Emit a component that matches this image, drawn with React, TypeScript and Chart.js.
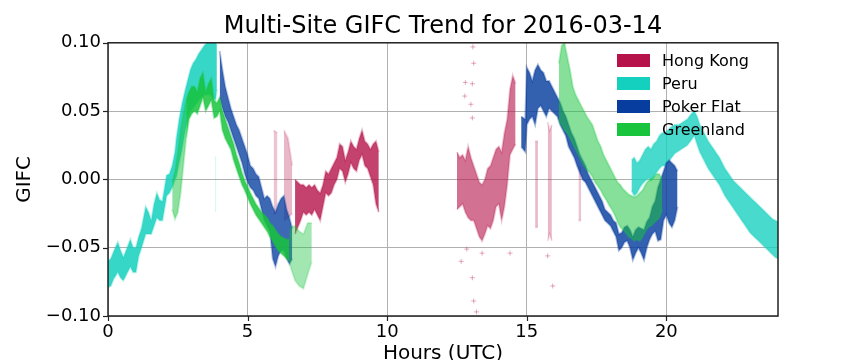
import React, { useEffect, useRef } from 'react';
import { Chart, registerables } from 'chart.js';

Chart.register(...registerables);

// [hour, low, high] envelopes
const peruEarly: [number, number, number][] = [
  [0.0, -0.079, -0.060], [0.1, -0.078, -0.058], [0.2, -0.073, -0.053], [0.35, -0.068, -0.046],
  [0.45, -0.072, -0.052], [0.55, -0.074, -0.057], [0.65, -0.070, -0.052], [0.8, -0.064, -0.044],
  [0.9, -0.068, -0.050], [1.0, -0.068, -0.050], [1.1, -0.056, -0.042], [1.2, -0.050, -0.036],
  [1.35, -0.040, -0.020], [1.45, -0.040, -0.024], [1.55, -0.040, -0.030], [1.65, -0.034, -0.018],
  [1.75, -0.028, -0.010], [1.85, -0.030, -0.015], [1.95, -0.030, -0.016], [2.1, -0.012, 0.003],
  [2.2, -0.010, 0.004], [2.3, -0.006, 0.010], [2.4, 0.000, 0.020], [2.45, 0.002, 0.030],
  [2.55, 0.012, 0.044], [2.65, 0.022, 0.055], [2.75, 0.034, 0.064], [2.85, 0.044, 0.072],
  [2.95, 0.050, 0.080], [3.05, 0.052, 0.085], [3.15, 0.055, 0.088], [3.25, 0.058, 0.092],
  [3.35, 0.060, 0.095], [3.45, 0.062, 0.098], [3.55, 0.062, 0.100], [3.65, 0.062, 0.102],
  [3.75, 0.060, 0.102], [3.85, 0.058, 0.100], [3.9, 0.066, 0.098],
];
const peruStreak: [number, number, number][] = [
  [3.83, -0.023, 0.016], [3.88, -0.023, 0.016],
];
const peruLate: [number, number, number][] = [
  [18.75, -0.008, 0.014], [18.85, -0.012, 0.016], [18.95, -0.010, 0.012], [19.05, -0.006, 0.014],
  [19.15, -0.003, 0.018], [19.25, -0.001, 0.022], [19.35, 0.001, 0.024], [19.45, -0.001, 0.022],
  [19.55, 0.002, 0.026], [19.65, 0.005, 0.028], [19.75, 0.008, 0.032], [19.85, 0.010, 0.034],
  [19.95, 0.010, 0.034], [20.05, 0.012, 0.036], [20.15, 0.015, 0.038], [20.3, 0.019, 0.040],
  [20.45, 0.021, 0.040], [20.6, 0.023, 0.042], [20.75, 0.025, 0.044], [20.9, 0.029, 0.048],
  [21.0, 0.032, 0.050], [21.1, 0.026, 0.046], [21.2, 0.020, 0.040], [21.3, 0.016, 0.036],
  [21.4, 0.012, 0.032], [21.5, 0.008, 0.028], [21.6, 0.005, 0.025], [21.7, 0.002, 0.022],
  [21.8, -0.001, 0.019], [21.9, -0.004, 0.016], [22.0, -0.008, 0.012], [22.1, -0.012, 0.008],
  [22.2, -0.015, 0.005], [22.3, -0.018, 0.002], [22.4, -0.021, -0.001], [22.5, -0.024, -0.003],
  [22.6, -0.027, -0.005], [22.7, -0.030, -0.007], [22.8, -0.033, -0.009], [22.9, -0.036, -0.011],
  [23.0, -0.039, -0.013], [23.1, -0.041, -0.015], [23.2, -0.043, -0.017], [23.3, -0.045, -0.019],
  [23.4, -0.047, -0.021], [23.5, -0.049, -0.023], [23.6, -0.051, -0.025], [23.7, -0.053, -0.027],
  [23.8, -0.055, -0.029], [23.9, -0.057, -0.030], [24.0, -0.058, -0.031],
];

const greenlandRise: [number, number, number][] = [
  [2.3, -0.022, -0.002], [2.4, -0.029, 0.006], [2.5, -0.024, 0.020], [2.6, -0.010, 0.036],
  [2.7, 0.010, 0.048], [2.8, 0.030, 0.058],
];
const greenlandEarly: [number, number, number][] = [
  [2.8, 0.030, 0.058], [2.9, 0.044, 0.064], [3.0, 0.048, 0.068], [3.1, 0.050, 0.068],
  [3.2, 0.048, 0.064], [3.3, 0.054, 0.074], [3.4, 0.060, 0.078], [3.5, 0.050, 0.064],
  [3.6, 0.054, 0.070], [3.7, 0.058, 0.074], [3.8, 0.045, 0.058], [3.9, 0.046, 0.056],
  [4.0, 0.050, 0.060], [4.1, 0.036, 0.050], [4.2, 0.030, 0.044], [4.3, 0.026, 0.038],
  [4.4, 0.022, 0.032], [4.5, 0.014, 0.026], [4.6, 0.008, 0.018], [4.7, 0.002, 0.012],
  [4.8, -0.004, 0.005], [4.9, -0.008, -0.001], [5.0, -0.013, -0.005], [5.1, -0.018, -0.010],
  [5.2, -0.022, -0.014], [5.3, -0.026, -0.018], [5.4, -0.029, -0.021], [5.5, -0.032, -0.024],
  [5.6, -0.035, -0.026], [5.7, -0.038, -0.028], [5.8, -0.042, -0.032], [5.9, -0.045, -0.034],
  [6.0, -0.049, -0.037], [6.1, -0.052, -0.040], [6.2, -0.054, -0.042], [6.3, -0.056, -0.043],
  [6.4, -0.058, -0.044], [6.5, -0.060, -0.044],
];
const greenlandTail: [number, number, number][] = [
  [6.5, -0.060, -0.044], [6.55, -0.065, -0.035], [6.7, -0.074, -0.034], [6.85, -0.078, -0.038],
  [7.0, -0.080, -0.040], [7.15, -0.070, -0.032], [7.3, -0.060, -0.032],
];
const greenlandLate: [number, number, number][] = [
  [16.15, 0.042, 0.085], [16.25, 0.040, 0.098], [16.35, 0.036, 0.100], [16.45, 0.034, 0.090],
  [16.55, 0.030, 0.080], [16.65, 0.026, 0.068], [16.75, 0.022, 0.062], [16.85, 0.018, 0.058],
  [16.95, 0.014, 0.054], [17.05, 0.010, 0.050], [17.15, 0.007, 0.046], [17.25, 0.005, 0.043],
  [17.35, 0.002, 0.040], [17.45, -0.002, 0.034], [17.55, -0.005, 0.028], [17.65, -0.008, 0.024],
  [17.75, -0.012, 0.018], [17.85, -0.015, 0.014], [17.95, -0.019, 0.010], [18.05, -0.022, 0.006],
  [18.15, -0.026, 0.002], [18.25, -0.031, -0.002], [18.35, -0.035, -0.004], [18.45, -0.037, -0.007],
  [18.55, -0.039, -0.009], [18.65, -0.042, -0.011], [18.75, -0.043, -0.012], [18.85, -0.045, -0.013],
  [18.95, -0.044, -0.012], [19.05, -0.045, -0.010], [19.15, -0.042, -0.008], [19.25, -0.038, -0.004],
  [19.35, -0.035, -0.001], [19.45, -0.034, 0.000], [19.55, -0.032, 0.002], [19.65, -0.030, 0.004],
  [19.75, -0.028, 0.004], [19.85, -0.022, 0.000],
];

const pokerEarly: [number, number, number][] = [
  [4.0, 0.060, 0.094], [4.1, 0.052, 0.080], [4.2, 0.046, 0.068], [4.3, 0.042, 0.060],
  [4.4, 0.036, 0.052], [4.5, 0.030, 0.046], [4.6, 0.024, 0.040], [4.7, 0.018, 0.036],
  [4.8, 0.012, 0.030], [4.9, 0.004, 0.024], [5.0, -0.002, 0.018], [5.1, -0.006, 0.010],
  [5.2, -0.008, 0.008], [5.3, -0.012, 0.004], [5.4, -0.014, 0.002], [5.5, -0.022, -0.006],
  [5.6, -0.030, -0.014], [5.7, -0.034, -0.012], [5.8, -0.038, -0.014], [5.9, -0.058, -0.020],
  [6.0, -0.064, -0.024], [6.1, -0.056, -0.018], [6.2, -0.052, -0.014], [6.3, -0.052, -0.012],
  [6.4, -0.058, -0.022], [6.5, -0.062, -0.028], [6.6, -0.058, -0.036],
];
const pokerLate: [number, number, number][] = [
  [14.8, 0.024, 0.046], [14.95, 0.020, 0.044], [15.0, 0.040, 0.082], [15.1, 0.044, 0.078],
  [15.2, 0.046, 0.072], [15.3, 0.040, 0.080], [15.4, 0.052, 0.084], [15.5, 0.054, 0.080],
  [15.6, 0.050, 0.078], [15.7, 0.046, 0.072], [15.8, 0.052, 0.072], [15.9, 0.050, 0.068],
  [16.0, 0.048, 0.064], [16.1, 0.046, 0.060], [16.2, 0.040, 0.056], [16.3, 0.036, 0.050],
  [16.4, 0.032, 0.046], [16.5, 0.024, 0.040], [16.6, 0.020, 0.034], [16.7, 0.016, 0.030],
  [16.8, 0.010, 0.024], [16.9, 0.005, 0.018], [17.0, 0.000, 0.014], [17.1, -0.002, 0.010],
  [17.2, -0.006, 0.004], [17.3, -0.010, 0.000], [17.4, -0.014, -0.004], [17.5, -0.018, -0.008],
  [17.6, -0.022, -0.012], [17.7, -0.026, -0.016], [17.8, -0.030, -0.022], [17.9, -0.032, -0.024],
  [18.0, -0.034, -0.026], [18.1, -0.038, -0.030], [18.2, -0.042, -0.032], [18.3, -0.052, -0.040],
  [18.4, -0.050, -0.039], [18.5, -0.046, -0.035], [18.6, -0.045, -0.034], [18.7, -0.050, -0.037],
  [18.8, -0.059, -0.042], [18.9, -0.054, -0.037], [19.0, -0.050, -0.035], [19.1, -0.054, -0.036],
  [19.2, -0.059, -0.037], [19.3, -0.050, -0.031], [19.4, -0.044, -0.028], [19.5, -0.040, -0.020],
  [19.6, -0.038, -0.016], [19.7, -0.045, -0.006], [19.8, -0.044, 0.000], [19.9, -0.030, 0.006],
  [20.0, -0.026, 0.012], [20.1, -0.032, 0.014], [20.2, -0.035, 0.012], [20.3, -0.030, 0.010],
  [20.4, -0.020, 0.006],
];

const hongKongEarly: [number, number, number][] = [
  [6.7, -0.040, 0.000], [6.8, -0.035, -0.002], [6.9, -0.030, -0.004], [7.0, -0.024, -0.004],
  [7.1, -0.026, -0.006], [7.2, -0.024, -0.004], [7.3, -0.026, -0.006], [7.4, -0.022, -0.004],
  [7.5, -0.026, -0.008], [7.6, -0.030, -0.010], [7.7, -0.020, -0.004], [7.8, -0.010, 0.006],
  [7.9, -0.012, 0.004], [8.0, -0.010, 0.008], [8.1, -0.004, 0.012], [8.2, 0.000, 0.016],
  [8.3, 0.008, 0.026], [8.4, 0.006, 0.024], [8.5, -0.002, 0.014], [8.6, 0.004, 0.020],
  [8.7, 0.012, 0.028], [8.8, 0.008, 0.024], [8.9, 0.006, 0.022], [9.0, 0.014, 0.030],
  [9.1, 0.018, 0.036], [9.2, 0.010, 0.028], [9.3, 0.008, 0.026], [9.4, 0.002, 0.022],
  [9.5, -0.004, 0.026], [9.6, -0.018, 0.028], [9.7, -0.024, 0.020],
];
const hongKongStreakA: [number, number, number][] = [[5.93, -0.026, 0.036], [6.07, -0.022, 0.034]];
const hongKongStreakB: [number, number, number][] = [[6.3, -0.030, 0.036], [6.45, -0.028, 0.030], [6.6, -0.025, 0.010]];
const hongKongLate: [number, number, number][] = [
  [12.5, -0.022, 0.020], [12.6, -0.020, 0.016], [12.7, -0.018, 0.018], [12.8, -0.024, 0.014],
  [12.9, -0.028, 0.024], [13.0, -0.030, 0.016], [13.1, -0.030, 0.010], [13.2, -0.036, 0.004],
  [13.3, -0.042, -0.002], [13.4, -0.045, -0.004], [13.5, -0.040, 0.000], [13.6, -0.034, 0.008],
  [13.7, -0.036, 0.010], [13.8, -0.030, 0.016], [13.9, -0.020, 0.022], [14.0, -0.018, 0.024],
  [14.1, -0.030, 0.020], [14.2, -0.020, 0.034], [14.3, -0.004, 0.044], [14.4, 0.018, 0.066],
  [14.5, 0.022, 0.076], [14.6, 0.026, 0.070],
];
const hongKongStreakC: [number, number, number][] = [[15.3, -0.035, 0.028], [15.4, -0.035, 0.028]];
const hongKongStreakD: [number, number, number][] = [[15.75, -0.045, 0.042], [15.82, -0.040, 0.036], [15.9, -0.045, 0.040]];
const hongKongStreakE: [number, number, number][] = [[16.85, -0.030, 0.010], [16.95, -0.030, 0.008]];
const hongKongOutliers: [number, number][] = [
  [13.07, 0.097], [13.1, 0.085], [13.05, 0.070], [12.8, 0.071], [12.78, 0.061], [13.0, 0.055],
  [13.05, 0.045], [13.05, -0.072], [13.1, -0.089], [13.2, -0.097], [12.85, -0.051], [13.4, -0.054],
  [14.4, -0.054], [15.75, -0.056], [15.93, -0.078], [12.65, -0.060],
];

const Y_TICKS = [-0.1, -0.05, 0, 0.05, 0.1];
const X_TICKS = [0, 5, 10, 15, 20];

const SERIES = ['Hong Kong', 'Peru', 'Poker Flat', 'Greenland'];
const COLORS = ['#b5134a', '#14d0be', '#073d9f', '#17c43c'];

function rgba(hex: string, a: number) {
  const n = parseInt(hex.slice(1), 16);
  return `rgba(${(n >> 16) & 255},${(n >> 8) & 255},${n & 255},${a})`;
}

function band(b: [number, number, number][], color: string, fillA: number, edgeA: number) {
  const common = {
    borderColor: rgba(color, edgeA),
    borderWidth: 2,
    pointRadius: 0,
    tension: 0,
  };
  return [
    { ...common, data: b.map(([x, , hi]) => ({ x, y: hi })), fill: false },
    { ...common, data: b.map(([x, lo]) => ({ x, y: lo })), fill: '-1', backgroundColor: rgba(color, fillA) },
  ];
}

const framePlugin = {
  id: 'frame',
  afterDraw(chart: any) {
    const { ctx, chartArea: a, scales } = chart;
    ctx.save();
    ctx.strokeStyle = '#222';
    ctx.lineWidth = 1.5;
    ctx.strokeRect(a.left, a.top, a.right - a.left, a.bottom - a.top);
    ctx.lineWidth = 1.2;
    for (const v of Y_TICKS) {
      const y = Math.round(scales.y.getPixelForValue(v)) + 0.5;
      ctx.beginPath(); ctx.moveTo(a.left - 5, y); ctx.lineTo(a.left, y); ctx.stroke();
    }
    for (const v of X_TICKS) {
      const x = Math.round(scales.x.getPixelForValue(v)) + 0.5;
      ctx.beginPath(); ctx.moveTo(x, a.bottom); ctx.lineTo(x, a.bottom + 5); ctx.stroke();
    }
    ctx.restore();
  },
};

export default function App() {
  const ref = useRef<HTMLCanvasElement>(null);
  useEffect(() => {
    if (!ref.current) return;
    const [HK, PE, PF, GL] = COLORS;
    const datasets: any[] = [
      ...band(greenlandEarly, GL, 0.85, 0.35),
      ...band(greenlandRise, GL, 0.5, 0.25),
      ...band(greenlandTail, GL, 0.4, 0.2),
      ...band(greenlandLate, GL, 0.52, 0.28),
      ...band(pokerEarly, PF, 0.78, 0.3),
      ...band(pokerLate, PF, 0.82, 0.35),
      ...band(peruEarly, PE, 0.85, 0.3),
      ...band(peruStreak, PE, 0.15, 0.1),
      ...band(peruLate, PE, 0.78, 0.3),
      ...band(hongKongEarly, HK, 0.8, 0.3),
      ...band(hongKongStreakA, HK, 0.25, 0.15),
      ...band(hongKongStreakB, HK, 0.3, 0.15),
      ...band(hongKongLate, HK, 0.6, 0.25),
      ...band(hongKongStreakC, HK, 0.3, 0.15),
      ...band(hongKongStreakD, HK, 0.3, 0.15),
      ...band(hongKongStreakE, HK, 0.25, 0.15),
      {
        data: hongKongOutliers.map(([x, y]) => ({ x, y })),
        showLine: false,
        pointStyle: 'cross',
        pointRadius: 2.5,
        pointBorderWidth: 1,
        pointBorderColor: rgba(HK, 0.35),
        borderColor: rgba(HK, 0.35),
        fill: false,
      },
    ];
    const chart = new Chart(ref.current, {
      type: 'line',
      data: { datasets },
      options: {
        animation: false,
        responsive: false,
        events: [],
        layout: { padding: { left: 0, right: 86, top: 0, bottom: 0 } },
        plugins: {
          legend: { display: false },
          tooltip: { enabled: false },
          title: {
            display: true,
            text: 'Multi-Site GIFC Trend for 2016-03-14',
            fullSize: false,
            color: '#000',
            font: { family: "'DejaVu Sans'", size: 24, weight: 'normal' },
            padding: { top: 12, bottom: 2 },
          },
        },
        scales: {
          x: {
            type: 'linear',
            min: 0,
            max: 24,
            afterBuildTicks: (s: any) => { s.ticks = X_TICKS.map((v) => ({ value: v })); },
            afterFit: (s: any) => { s.height = 44; },
            grid: { color: '#b0b0b0', lineWidth: 1, drawTicks: false },
            border: { display: false },
            ticks: {
              color: '#000',
              padding: 6,
              maxRotation: 0,
              font: { family: "'DejaVu Sans'", size: 18 },
              callback: (v: any) => String(v),
            },
            title: {
              display: true,
              text: 'Hours (UTC)',
              color: '#000',
              font: { family: "'DejaVu Sans'", size: 20 },
              padding: { top: 0, bottom: -6 },
            },
          },
          y: {
            type: 'linear',
            min: -0.1,
            max: 0.1,
            afterBuildTicks: (s: any) => { s.ticks = Y_TICKS.map((v) => ({ value: v })); },
            afterFit: (s: any) => { s.width = 108; },
            grid: { color: '#b0b0b0', lineWidth: 1, drawTicks: false },
            border: { display: false },
            ticks: {
              color: '#000',
              padding: 7,
              font: { family: "'DejaVu Sans'", size: 18 },
              callback: (v: any) => Number(v).toFixed(2).replace('-', '\u2212'),
            },
            title: {
              display: true,
              text: 'GIFC',
              color: '#000',
              font: { family: "'DejaVu Sans'", size: 20 },
              padding: { top: 13, bottom: 0 },
            },
          },
        },
      },
      plugins: [framePlugin],
    });
    return () => chart.destroy();
  }, []);

  return (
    <div style={{ position: 'fixed', left: 0, top: 0, width: 864, height: 360, background: '#fff' }}>
      <canvas ref={ref} width={864} height={360} style={{ display: 'block' }} />
      <div style={{ position: 'absolute', left: 617, top: 54, fontFamily: "'DejaVu Sans'", fontSize: 16, color: '#000' }}>
        {SERIES.map((name, i) => (
          <div key={name} style={{ display: 'flex', alignItems: 'center', height: 13, marginBottom: 10 }}>
            <div style={{ width: 33, height: 13, background: COLORS[i] }} />
            <span style={{ marginLeft: 12, lineHeight: '13px', whiteSpace: 'nowrap' }}>{name}</span>
          </div>
        ))}
      </div>
    </div>
  );
}
